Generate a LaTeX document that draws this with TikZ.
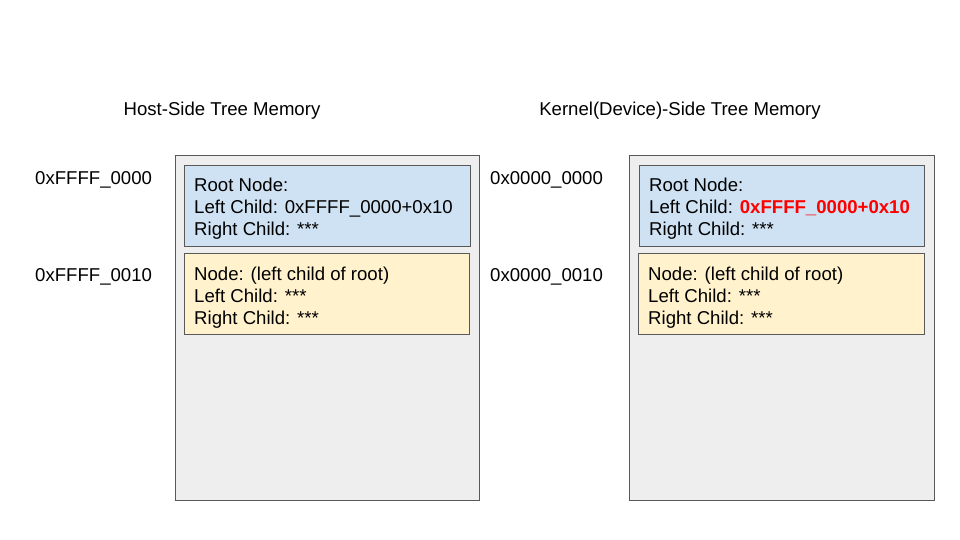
\documentclass[tikz,border=0pt]{standalone}
\usepackage{fontspec}
\setmainfont{Liberation Sans}
\definecolor{memgrey}{HTML}{EEEEEE}
\definecolor{rootblue}{HTML}{CFE2F3}
\definecolor{nodeyellow}{HTML}{FFF2CC}
\definecolor{edgegrey}{HTML}{595959}
\definecolor{hotred}{HTML}{FF0000}
\begin{document}
\begin{tikzpicture}[x=1pt,y=-1pt,
  memarea/.style={draw=edgegrey,fill=memgrey,line width=0.8pt},
  rootbox/.style={draw=edgegrey,fill=rootblue,line width=0.8pt},
  childbox/.style={draw=edgegrey,fill=nodeyellow,line width=0.8pt},
  txt/.style={anchor=base west,inner sep=0pt,font=\fontsize{18.6}{22}\selectfont,text=black},
  title/.style={anchor=base,inner sep=0pt,font=\fontsize{18.6}{22}\selectfont,text=black}]
\useasboundingbox[fill=white] (0,0) rectangle (960,540);
% titles
\node[title] (t1) at (222,115.5) {Host-Side Tree Memory};
\node[title] (t2) at (680,115.5) {Kernel(Device)-Side Tree Memory};
% addresses
\node[txt] (a1) at (35,184.5) {0xFFFF\_0000};
\node[txt] (a2) at (35,281.5) {0xFFFF\_0010};
\node[txt] (a3) at (490,184.5) {0x0000\_0000};
\node[txt] (a4) at (490,281.5) {0x0000\_0010};
% left memory
\draw[memarea] (175,155) rectangle (479,500);
\draw[rootbox] (184,165) rectangle (470,246);
\draw[childbox] (184,253) rectangle (469,334);
\node[txt] (l1) at (194,191.5) {Root Node:};
\node[txt] (l2) at (194,213.5) {Left Child: 0xFFFF\_0000+0x10};
\node[txt] (l3) at (194,235.5) {Right Child: ***};
\node[txt] (l4) at (194,280.5) {Node: (left child of root)};
\node[txt] (l5) at (194,302.5) {Left Child: ***};
\node[txt] (l6) at (194,324.5) {Right Child: ***};
% right memory
\draw[memarea] (629,155) rectangle (934,500);
\draw[rootbox] (639,165) rectangle (924,246);
\draw[childbox] (638,253) rectangle (924,334);
\node[txt] (r1) at (649,191.5) {Root Node:};
\node[txt] (r2) at (649,213.5) {Left Child: \textcolor{hotred}{\bfseries 0xFFFF\_0000+0x10}};
\node[txt] (r3) at (649,235.5) {Right Child: ***};
\node[txt] (r4) at (648,280.5) {Node: (left child of root)};
\node[txt] (r5) at (648,302.5) {Left Child: ***};
\node[txt] (r6) at (648,324.5) {Right Child: ***};
\end{tikzpicture}
\end{document}
